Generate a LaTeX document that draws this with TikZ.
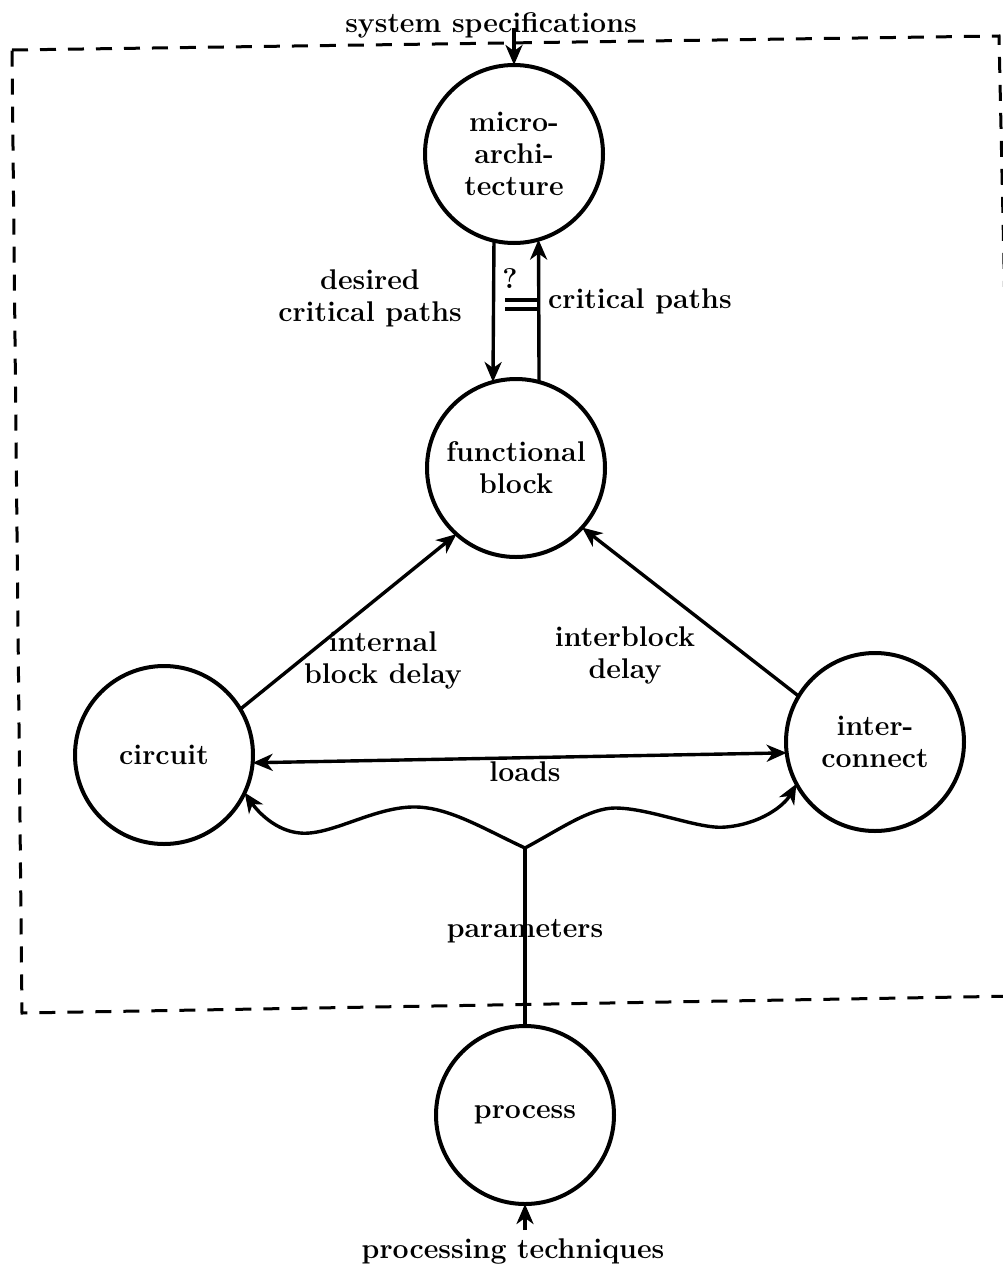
\documentclass[tikz,border=0pt]{standalone}
\usepackage{fontspec}
\usetikzlibrary{arrows.meta}
\begin{document}
\begin{tikzpicture}[x=1pt,y=-1pt,
  every node/.style={font=\fontsize{28.5}{32}\selectfont\bfseries\addfontfeatures{FakeBold=1.3}},
  stage/.style={draw, circle, line width=4pt, minimum size=178pt,
    inner sep=0pt, outer sep=0pt, align=center},
  lbl/.style={align=center, inner sep=0pt},
  flow/.style={line width=3.4pt, -{Stealth[length=20pt,width=17pt,inset=6pt]}},
  both/.style={line width=3.4pt,
    {Stealth[length=20pt,width=17pt,inset=6pt]}-{Stealth[length=20pt,width=17pt,inset=6pt]}},
  plain/.style={line width=3.4pt},
  frame/.style={line width=3pt, dash pattern=on 16pt off 12pt}]

\useasboundingbox (0,0) rectangle (1002,1272);

% design boundary (dashed)
\draw[frame] (12,50) -- (999,36) -- (1020,996) -- (22,1013) -- cycle;

% stages
\node[stage] (ma) at (514,154) {micro-\\archi-\\tecture};
\node[stage] (fb) at (516,468) {functional\\block};
\node[stage] (ci) at (164,755) {circuit};
\node[stage] (ic) at (875,742) {inter-\\connect};
\node[stage] (pr) at (525,1115) {process};

% external inputs
\node[lbl, anchor=base] (ss) at (491,32) {system specifications};
\node[lbl, anchor=base] (pt) at (513,1258) {processing techniques};
\coordinate (ssin) at (514,28);
\coordinate (ptin) at (525,1230);
\draw[flow] (ssin) -- (ma.north);
\draw[flow] (ptin) -- (pr.south);

% micro-architecture <-> functional block
\draw[flow] (ma.-103.6) -- (fb.105);
\draw[flow] (fb.75.9) -- (ma.-74.4);
\node[lbl] (dcp) at (370,298) {desired\\critical paths};
\node[lbl, anchor=base west] (cp) at (548,308) {critical paths};
\node[lbl] (q) at (510,279) {?};
\coordinate (eqa) at (505,300);
\coordinate (eqb) at (537,300);
\coordinate (eqc) at (505,309);
\coordinate (eqd) at (537,309);
\draw[plain] (eqa) -- (eqb);
\draw[plain] (eqc) -- (eqd);

% delays into the functional block
\draw[flow] (ci.31.3) -- (fb.228.3);
\draw[flow] (ic.149.7) -- (fb.-42.8);
\node[lbl] (ibd) at (383,660) {internal\\block delay};
\node[lbl] (ibl) at (625,655) {interblock\\delay};

% loads
\draw[both] (ci.-5) -- (ic.187);
\node[lbl] (ld) at (525,772) {loads};

% process parameters
\coordinate (J) at (525,848);
\draw[plain] (pr.north) -- (J);
\draw[flow] (J) .. controls (482,828) and (447,806) .. (412,807)
  .. controls (372,808) and (330,836) .. (300,833)
  .. controls (276,831) and (258,812) .. (ci.-25);
\draw[flow] (J) .. controls (562,828) and (590,808) .. (615,808)
  .. controls (650,808) and (700,830) .. (726,827)
  .. controls (760,824) and (784,806) .. (ic.-152.5);
\node[lbl] (par) at (525,931) {parameters};

\end{tikzpicture}
\end{document}
